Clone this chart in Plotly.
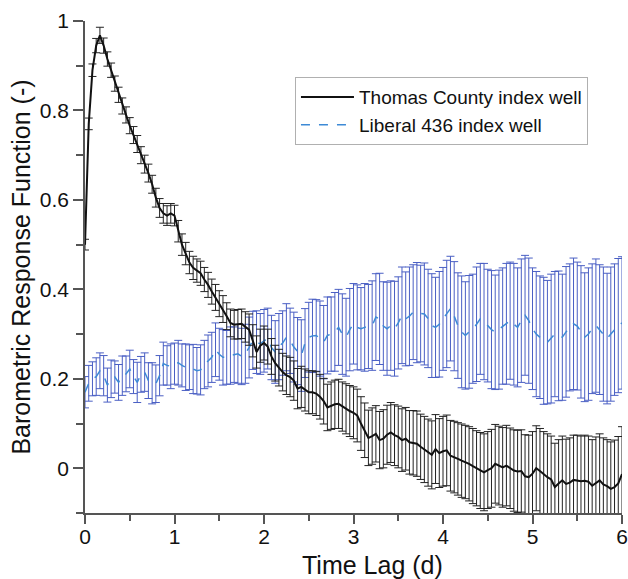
import plotly.graph_objects as go

# Time lag in days (hourly lags, 0 .. 6 d)
lag_hours = list(range(0, 145))
time_lag = [h / 24 for h in lag_hours]

thomas = [
    0.50, 0.77, 0.89, 0.945, 0.968, 0.945, 0.915, 0.89, 0.86, 0.835, 0.81, 0.79,
    0.766, 0.745, 0.725, 0.70, 0.68, 0.66, 0.635, 0.605, 0.582, 0.57, 0.565, 0.57,
    0.565, 0.53, 0.50, 0.48, 0.46, 0.448, 0.442, 0.436, 0.422, 0.41, 0.395, 0.382,
    0.368, 0.356, 0.34, 0.325, 0.321, 0.322, 0.323, 0.316, 0.31, 0.285, 0.26, 0.274,
    0.28, 0.272, 0.25, 0.235, 0.225, 0.215, 0.208, 0.204, 0.196, 0.178, 0.182, 0.175,
    0.17, 0.17, 0.167, 0.16, 0.15, 0.136, 0.14, 0.143, 0.144, 0.138, 0.133, 0.128,
    0.124, 0.118, 0.10, 0.085, 0.068, 0.072, 0.077, 0.063, 0.066, 0.075, 0.08, 0.074,
    0.07, 0.063, 0.066, 0.058, 0.057, 0.055, 0.048, 0.042, 0.035, 0.03, 0.043, 0.034,
    0.038, 0.04, 0.028, 0.025, 0.021, 0.017, 0.014, 0.01, 0.005, 0.0, -0.005, -0.009,
    -0.004, 0.0, 0.01, 0.006, 0.002, 0.006, 0.0, -0.005, -0.007, -0.006, -0.018, -0.02,
    -0.012, 0.0, -0.006, -0.014, -0.02, -0.025, -0.042, -0.034, -0.027, -0.035, -0.032, -0.026,
    -0.027, -0.029, -0.028, -0.03, -0.039, -0.033, -0.027, -0.036, -0.04, -0.046, -0.042, -0.034,
    -0.013,
]

thomas_err = [
    0.012, 0.013, 0.014, 0.016, 0.018, 0.017, 0.016, 0.016, 0.017, 0.017, 0.018, 0.018,
    0.018, 0.019, 0.019, 0.019, 0.020, 0.020, 0.020, 0.021, 0.021, 0.022, 0.022, 0.022,
    0.023, 0.024, 0.024, 0.025, 0.025, 0.026, 0.026, 0.027, 0.027, 0.028, 0.028, 0.029,
    0.029, 0.030, 0.030, 0.031, 0.032, 0.033, 0.033, 0.034, 0.035, 0.036, 0.036, 0.037,
    0.038, 0.039, 0.040, 0.040, 0.041, 0.042, 0.043, 0.044, 0.044, 0.045, 0.046, 0.047,
    0.048, 0.048, 0.049, 0.050, 0.051, 0.052, 0.053, 0.054, 0.055, 0.055, 0.056, 0.057,
    0.058, 0.059, 0.060, 0.061, 0.062, 0.063, 0.063, 0.064, 0.065, 0.066, 0.067, 0.068,
    0.069, 0.070, 0.070, 0.071, 0.072, 0.073, 0.073, 0.074, 0.075, 0.076, 0.077, 0.077,
    0.078, 0.079, 0.079, 0.080, 0.081, 0.082, 0.082, 0.083, 0.084, 0.084, 0.085, 0.086,
    0.086, 0.087, 0.088, 0.088, 0.089, 0.090, 0.090, 0.091, 0.092, 0.092, 0.093, 0.094,
    0.094, 0.095, 0.095, 0.096, 0.097, 0.097, 0.098, 0.098, 0.099, 0.100, 0.100, 0.100,
    0.101, 0.101, 0.102, 0.102, 0.103, 0.103, 0.104, 0.104, 0.104, 0.105, 0.105, 0.105,
    0.106,
]

liberal = [
    0.17, 0.19, 0.20, 0.205, 0.218, 0.207, 0.186, 0.20, 0.204, 0.192, 0.207, 0.211,
    0.222, 0.205, 0.192, 0.21, 0.215, 0.196, 0.19, 0.189, 0.207, 0.234, 0.23, 0.228,
    0.234, 0.236, 0.23, 0.226, 0.226, 0.222, 0.218, 0.22, 0.232, 0.24, 0.248, 0.265,
    0.255, 0.248, 0.248, 0.252, 0.254, 0.256, 0.25, 0.256, 0.27, 0.286, 0.282, 0.278,
    0.285, 0.29, 0.27, 0.26, 0.272, 0.28, 0.293, 0.285, 0.271, 0.262, 0.252, 0.28,
    0.293, 0.296, 0.297, 0.29, 0.282, 0.297, 0.30, 0.305, 0.315, 0.30, 0.293, 0.31,
    0.323, 0.315, 0.312, 0.315, 0.317, 0.319, 0.338, 0.334, 0.318, 0.312, 0.319, 0.312,
    0.325, 0.342, 0.334, 0.34, 0.349, 0.348, 0.346, 0.345, 0.335, 0.319, 0.315, 0.322,
    0.334, 0.345, 0.357, 0.34, 0.319, 0.305, 0.297, 0.305, 0.312, 0.322, 0.334, 0.328,
    0.319, 0.31, 0.304, 0.31, 0.318, 0.323, 0.33, 0.322, 0.315, 0.33, 0.342, 0.33,
    0.312, 0.30, 0.293, 0.285, 0.282, 0.29, 0.30, 0.296, 0.293, 0.305, 0.315, 0.323,
    0.318, 0.305, 0.293, 0.30, 0.312, 0.319, 0.31, 0.30, 0.29, 0.30, 0.31, 0.319,
    0.325,
]

liberal_err = [
    0.035, 0.040, 0.038, 0.042, 0.040, 0.045, 0.038, 0.042, 0.036, 0.040, 0.044, 0.040,
    0.042, 0.038, 0.045, 0.040, 0.043, 0.040, 0.046, 0.042, 0.045, 0.048, 0.044, 0.050,
    0.046, 0.050, 0.048, 0.052, 0.050, 0.055, 0.052, 0.056, 0.054, 0.058, 0.056, 0.060,
    0.058, 0.062, 0.060, 0.064, 0.062, 0.066, 0.063, 0.066, 0.068, 0.065, 0.070, 0.068,
    0.070, 0.068, 0.072, 0.070, 0.074, 0.072, 0.075, 0.073, 0.078, 0.075, 0.080, 0.077,
    0.078, 0.082, 0.080, 0.084, 0.082, 0.086, 0.083, 0.088, 0.085, 0.090, 0.087, 0.092,
    0.090, 0.095, 0.092, 0.098, 0.094, 0.100, 0.097, 0.102, 0.099, 0.104, 0.100, 0.106,
    0.103, 0.108, 0.105, 0.110, 0.106, 0.112, 0.108, 0.114, 0.110, 0.116, 0.112, 0.118,
    0.115, 0.120, 0.117, 0.122, 0.118, 0.125, 0.120, 0.126, 0.122, 0.128, 0.124, 0.130,
    0.126, 0.132, 0.128, 0.133, 0.130, 0.135, 0.131, 0.136, 0.133, 0.138, 0.134, 0.140,
    0.136, 0.140, 0.137, 0.142, 0.138, 0.144, 0.140, 0.145, 0.141, 0.146, 0.142, 0.147,
    0.143, 0.148, 0.144, 0.148, 0.145, 0.149, 0.145, 0.150, 0.146, 0.150, 0.147, 0.150,
    0.148,
]

series_names = ["Thomas County index well", "Liberal 436 index well"]
x_ticks = [0, 1, 2, 3, 4, 5, 6]

FONT = "Liberation Sans, Arial, sans-serif"
AXIS_COLOR = "#555555"

fig = go.Figure()

fig.add_trace(go.Scatter(
    x=time_lag, y=liberal, mode="lines", name=series_names[1],
    line=dict(color="#3d8ad6", width=1.5, dash="dash"),
    error_y=dict(type="data", array=liberal_err, visible=True,
                 color="#4a5fc4", thickness=1, width=4),
    cliponaxis=False,
))

fig.add_trace(go.Scatter(
    x=time_lag, y=thomas, mode="lines", name=series_names[0],
    line=dict(color="#111111", width=2),
    error_y=dict(type="data", array=thomas_err, visible=True,
                 color="#222222", thickness=1, width=4),
    cliponaxis=False,
))

fig.update_layout(
    width=628, height=579,
    margin=dict(l=85, r=6, t=21, b=66),
    paper_bgcolor="white", plot_bgcolor="white",
    font=dict(family=FONT, color="#111111"),
    showlegend=True,
    legend=dict(
        x=0.391, y=0.886, xanchor="left", yanchor="top",
        bgcolor="white", bordercolor="#b0b0b0", borderwidth=1,
        font=dict(size=19, family=FONT, color="#111111"),
        traceorder="reversed",
        tracegroupgap=0,
        itemwidth=53,
    ),
    xaxis=dict(
        range=[0, 6], tickvals=x_ticks, showgrid=False, zeroline=False,
        showline=True, linecolor=AXIS_COLOR, linewidth=1.5,
        ticks="outside", ticklen=9, tickwidth=1.5, tickcolor=AXIS_COLOR,
        tickfont=dict(size=21, family=FONT, color="#111111"),
        ticklabelstandoff=-5,
        minor=dict(dtick=0.5, tick0=0, ticks="outside", ticklen=6,
                   tickwidth=1.5, tickcolor=AXIS_COLOR, showgrid=False),
        automargin=False,
    ),
    yaxis=dict(
        range=[-0.1, 1.0], tick0=0, dtick=0.2, showgrid=False, zeroline=False,
        showline=True, linecolor=AXIS_COLOR, linewidth=1.5,
        ticks="outside", ticklen=10, tickwidth=1.5, tickcolor=AXIS_COLOR,
        tickfont=dict(size=21, family=FONT, color="#111111"),
        minor=dict(dtick=0.1, tick0=0, ticks="outside", ticklen=7,
                   tickwidth=1.5, tickcolor=AXIS_COLOR, showgrid=False),
        title=dict(text="Barometric Response Function (-)",
                   font=dict(size=25, family=FONT, color="#111111"),
                   standoff=2),
        automargin=False,
    ),
    annotations=[dict(
        text="Time Lag (d)", xref="paper", yref="paper",
        x=0.535, y=-0.106, xanchor="center", yanchor="middle",
        showarrow=False, font=dict(size=25, family=FONT, color="#111111"),
    )],
)

fig.write_html(
    "out.html",
    config={"displayModeBar": False},
    post_script="document.body.style.margin='0';document.body.style.overflow='hidden';",
)
